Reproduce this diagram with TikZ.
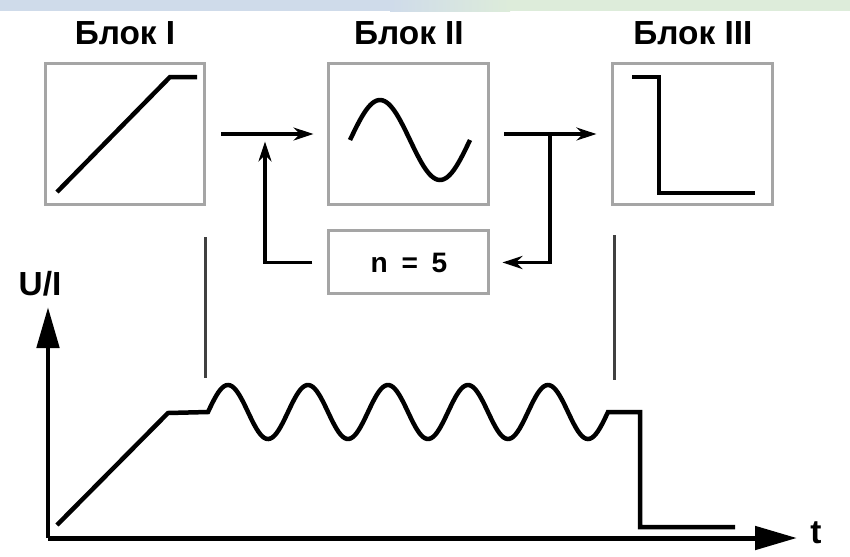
\documentclass[tikz,border=0pt]{standalone}
\usepackage{fontspec}
\setmainfont{Liberation Sans}
\usetikzlibrary{arrows.meta,positioning}
\definecolor{boxgray}{RGB}{165,165,165}
\definecolor{barblue}{RGB}{207,219,234}
\definecolor{bargreen}{RGB}{221,236,218}
\begin{document}
\begin{tikzpicture}[x=0.02cm, y=-0.02cm, node distance=5.68cm, thick,
    font=\bfseries\fontsize{19}{22}\selectfont,
    block/.style={draw=boxgray, line width=0.06cm, rectangle, minimum width=3.2cm, minimum height=2.82cm, inner sep=0pt},
    title/.style={anchor=base, inner sep=0pt},
    flow/.style={line width=0.065cm, -{Stealth[length=0.4cm, width=0.26cm]}},
    trace/.style={line width=0.09cm},
    guide/.style={line width=0.06cm, draw=black!75}]
    \useasboundingbox (0,0) rectangle (850,556);
    % top bar
    \fill[barblue] (0,0) rectangle (390,11);
    \shade[left color=barblue, right color=bargreen] (390,0) rectangle (510,11);
    \fill[bargreen] (510,0) rectangle (850,11);

    \node (b1) [block] at (125,134) {};
    \node (b2) [block, right of=b1] {};
    \node (b3) [block, right of=b2] {};
    \node (n5) [block, below of=b2, node distance=2.57cm, minimum height=1.26cm,
        font=\bfseries\fontsize{16}{18}\selectfont] {n\hspace{0.12cm} = \hspace{0.12cm}5};
    \node (l1) [above of=b1, node distance=1.8cm, title] {Блок I};
    \node (l2) [above of=b2, node distance=1.8cm, title] {Блок II};
    \node (l3) [above of=b3, node distance=1.8cm, title] {Блок III};

    % block curves
    \draw[trace] (57,192) -- (170,77) -- (197,77);
    \draw[trace] plot[domain=0:120, samples=60] ({350+\x},{140-40*sin(3*\x)});
    \draw[trace] (632,77) -- (659,77) -- (659,193) -- (755,193);

    \coordinate (j1) at (265,134);
    \coordinate (j2) at (550,134);
    \draw[flow, shorten <=0.3cm, shorten >=0.28cm] (b1) -- (b2);
    \draw[flow, shorten <=0.3cm, shorten >=0.15cm] (n5.west) -| (j1);
    \draw[flow, shorten <=0.28cm, shorten >=0.3cm] (b2) -- (b3);
    \draw[flow, shorten >=0.24cm] (j2) |- (n5.east);

    \draw[guide] (205,237) -- (205,378);
    \draw[guide] (614,235) -- (614,380);

    % axes
    \coordinate (o) at (48,538);
    \coordinate (ytip) at (48,307);
    \coordinate (xtip) at (797,538);
    \node (ylab) at (40,284) {U/I};
    \node (tlab) at (816,533) {t};
    \draw[line width=0.1cm, -{Triangle[length=0.82cm, width=0.44cm]}] (o) -- (ytip);
    \draw[line width=0.1cm, -{Triangle[length=0.84cm, width=0.46cm]}] (o) -- (xtip);

    \draw[trace] (57,525) -- (168,413) -- (208,412)
        -- plot[domain=0:400, samples=200] ({208+\x},{412-27*sin(4.5*\x)})
        -- (640,412) -- (640,527) -- (735,527);
\end{tikzpicture}
\end{document}
